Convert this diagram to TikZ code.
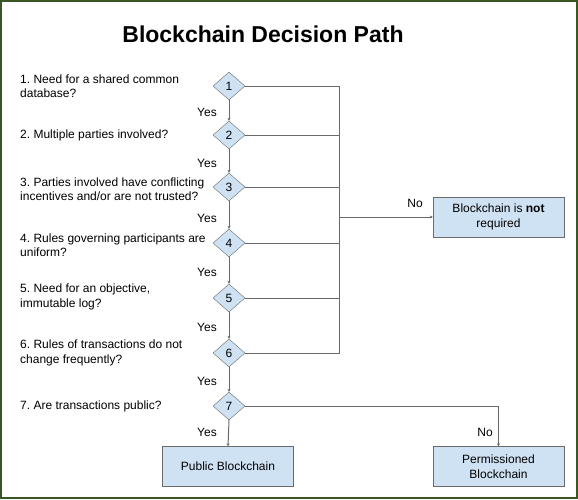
\documentclass[tikz,border=0pt]{standalone}
\usepackage{fontspec}
\setmainfont{Liberation Sans}
\usetikzlibrary{shapes.geometric,arrows.meta}
\definecolor{framec}{HTML}{385723}
\definecolor{fillb}{HTML}{CFE2F3}
\definecolor{edgec}{HTML}{6A6A6A}
\frenchspacing
\begin{document}
\begin{tikzpicture}[x=1pt,y=-1pt,
 dia/.style={diamond,draw=edgec,fill=fillb,minimum width=32pt,minimum height=28pt,inner sep=0pt,aspect=1.14,font=\fontsize{12}{14}\selectfont},
 res/.style={draw=edgec,fill=fillb,minimum width=131pt,minimum height=40pt,align=center,font=\fontsize{12}{14.5}\selectfont},
 quest/.style={anchor=west,align=left,font=\fontsize{12}{14.5}\selectfont,inner sep=0pt},
 lbl/.style={font=\fontsize{12}{14}\selectfont,inner sep=0pt},
 conn/.style={draw=edgec,line width=1pt},
 arr/.style={conn,-{Stealth[length=3pt,width=3pt]}}]
\useasboundingbox (0,0) rectangle (578,499);
\draw[framec,line width=2pt] (1,1) rectangle (577,498);
\node[font=\bfseries\fontsize{23}{28}\selectfont] (title) at (263,34) {Blockchain Decision Path};

\node[dia] (d1) at (229,86) {1};
\node[dia] (d2) at (229,135) {2};
\node[dia] (d3) at (229,187) {3};
\node[dia] (d4) at (229,243) {4};
\node[dia] (d5) at (229,298) {5};
\node[dia] (d6) at (229,353) {6};
\node[dia] (d7) at (229,406) {7};

\node[quest] (q1) at (20,86) {1. Need for a shared common\\database?};
\node[quest] (q2) at (20,135) {2. Multiple parties involved?};
\node[quest] (q3) at (20,189) {3. Parties involved have conflicting\\incentives and/or are not trusted?};
\node[quest] (q4) at (20,245) {4. Rules governing participants are\\uniform?};
\node[quest] (q5) at (20,297) {5. Need for an objective,\\immutable log?};
\node[quest] (q6) at (20,353) {6. Rules of transactions do not\\change frequently?};
\node[quest] (q7) at (20,406) {7. Are transactions public?};

\node[res] (notreq) at (498.5,217) {Blockchain is \textbf{not}\\required};
\node[res] (pub) at (228,466.5) {Public Blockchain};
\node[res] (perm) at (498.5,466.5) {Permissioned\\Blockchain};

\draw[arr] (d1.south) -- (d2.north);
\draw[arr] (d2.south) -- (d3.north);
\draw[arr] (d3.south) -- (d4.north);
\draw[arr] (d4.south) -- (d5.north);
\draw[arr] (d5.south) -- (d6.north);
\draw[arr] (d6.south) -- (d7.north);
\draw[arr] (d7.south) -- (pub.north);

\node[lbl,anchor=east] (y1) at (217,112) {Yes};
\node[lbl,anchor=east] (y2) at (217,163) {Yes};
\node[lbl,anchor=east] (y3) at (217,218) {Yes};
\node[lbl,anchor=east] (y4) at (217,272) {Yes};
\node[lbl,anchor=east] (y5) at (217,327) {Yes};
\node[lbl,anchor=east] (y6) at (217,381) {Yes};
\node[lbl,anchor=east] (y7) at (217,432) {Yes};

\coordinate (b1) at (339,86);
\coordinate (b6) at (339,353);
\draw[conn] (d1.east) -- (b1) -- (b6) -- (d6.east);
\draw[conn] (d2.east) -- (d2.east -| b1);
\draw[conn] (d3.east) -- (d3.east -| b1);
\draw[conn] (d4.east) -- (d4.east -| b1);
\draw[conn] (d5.east) -- (d5.east -| b1);
\draw[arr] (notreq.west -| b1) -- (notreq.west);
\node[lbl] (no1) at (415,203) {No};

\draw[arr] (d7.east) -| (perm.north);
\node[lbl] (no2) at (485,432) {No};
\end{tikzpicture}
\end{document}
